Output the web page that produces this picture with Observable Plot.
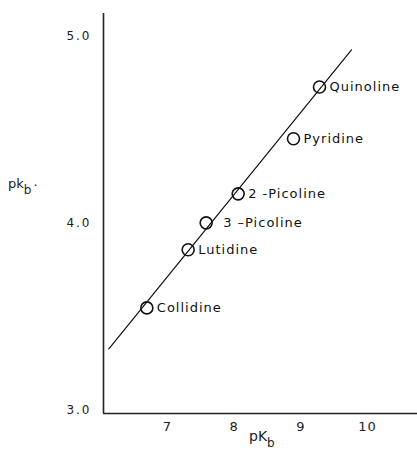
<!DOCTYPE html>
<html>
<head>
<meta charset="utf-8">
<script src="https://cdn.jsdelivr.net/npm/d3@7"></script>
<script src="https://cdn.jsdelivr.net/npm/@observablehq/plot@0.6"></script>
<style>
  body { margin: 0; background: #fff; }
  #chart svg { display: block; }
</style>
</head>
<body>
<div id="chart"></div>
<script>
// Data
const compounds = ["Collidine", "Lutidine", "3 \u2013Picoline", "2 \u2010Picoline", "Pyridine", "Quinoline"];
const pKb = [6.69, 7.31, 7.58, 8.06, 8.89, 9.28];
const pkbPrime = [3.545, 3.856, 4.0, 4.155, 4.45, 4.727];
const fitX = [6.12, 9.76];
const fitY = [3.326, 4.925];
const xTicks = [7, 8, 9, 10];
const yTicks = [3, 4, 5];
const xDomain = [6.04, 10.75];
const yDomain = [2.98, 5.12];

const points = compounds.map((name, i) => ({name, x: pKb[i], y: pkbPrime[i]}));
const fitLine = fitX.map((x, i) => ({x, y: fitY[i]}));

const font = "DejaVu Sans, Liberation Sans, sans-serif";

const plot = Plot.plot({
  width: 417,
  height: 451,
  marginLeft: 103,
  marginRight: 0,
  marginTop: 13,
  marginBottom: 38,
  style: {fontFamily: font, fontSize: "12px", color: "#222", background: "#fff"},
  x: {domain: xDomain},
  y: {domain: yDomain},
  marks: [
    Plot.axisX(xTicks, {tickSize: 0, tickPadding: 8, label: null, fontSize: 13}),
    Plot.axisY(yTicks, {tickSize: 0, tickPadding: 12, label: null, tickFormat: d3.format(".1f"), fontSize: 12}),
    Plot.ruleX([xDomain[0]], {stroke: "#222", strokeWidth: 1.6}),
    Plot.ruleY([yDomain[0]], {stroke: "#222", strokeWidth: 1.6}),
    Plot.line(fitLine, {x: "x", y: "y", stroke: "#111", strokeWidth: 1.2}),
    Plot.dot(points, {x: "x", y: "y", r: 6, stroke: "#111", strokeWidth: 1.6, fill: "none"}),
    Plot.text(points.filter(d => !d.name.startsWith("3")), {x: "x", y: "y", text: "name", textAnchor: "start", dx: 10, fontSize: 13, fill: "#111"}),
    Plot.text(points.filter(d => d.name.startsWith("3")), {x: "x", y: "y", text: "name", textAnchor: "start", dx: 17, fontSize: 13, fill: "#111"})
  ]
});

const svg = d3.select(plot);
svg.selectAll("text").style("letter-spacing", "1px");
// Axis tick labels spaced like the lettering in the reference
svg.selectAll("[aria-label='y-axis tick label'] text").style("letter-spacing", "2px");
svg.selectAll("[aria-label='y-axis tick label'] text").filter(d => d === 5).attr("fill", "#aaa");

// Axis titles with subscripts
const xt = svg.append("text")
  .attr("x", 249).attr("y", 441)
  .attr("text-anchor", "start")
  .attr("font-family", font).attr("font-size", 14).attr("fill", "#222");
xt.append("tspan").text("pK");
xt.append("tspan").attr("dy", 6).attr("font-size", 12).text("b");

const yt = svg.append("text")
  .attr("x", 8).attr("y", 188)
  .attr("text-anchor", "start")
  .attr("font-family", font).attr("font-size", 13).attr("fill", "#222");
yt.append("tspan").text("pk");
yt.append("tspan").attr("dy", 6).attr("font-size", 12).text("b");
yt.append("tspan").attr("dy", -4).attr("dx", 2).text("\u00b7");

document.getElementById("chart").appendChild(plot);
</script>
</body>
</html>
